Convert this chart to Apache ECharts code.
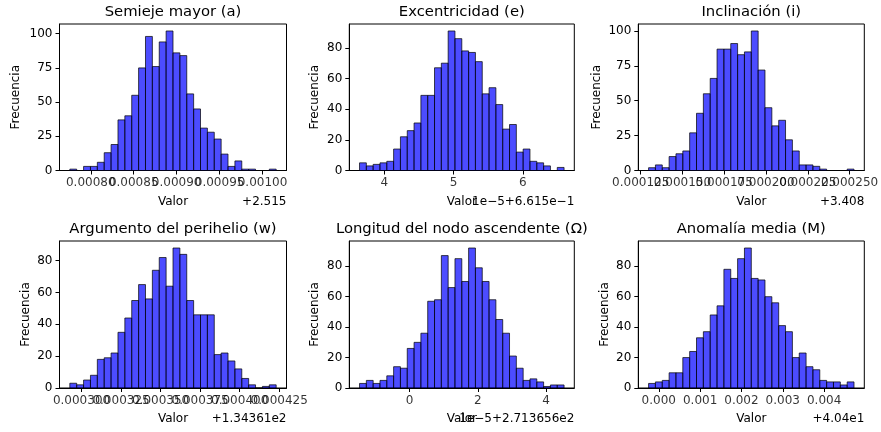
<!DOCTYPE html>
<html><head><meta charset="utf-8">
<script src="https://cdn.jsdelivr.net/npm/echarts@6/dist/echarts.min.js"></script>
<style>html,body{margin:0;padding:0;background:#fff}#c{width:881px;height:432px}</style>
</head><body><div id="c"></div>
<script>
const FONT = 'DejaVu Sans';
const titles = ['Semieje mayor (a)', 'Excentricidad (e)', 'Inclinación (i)',
  'Argumento del perihelio (w)', 'Longitud del nodo ascendente (Ω)', 'Anomalía media (M)'];
const offsetTexts = ['+2.515', '1e\u22125+6.615e\u22121', '+3.408', '+1.34361e2', '1e\u22125+2.713656e2', '+4.04e1'];

// histogram counts (30 bins each)
const countsA = [1,0,3,3,6,13,19,37,40,55,75,98,76,94,102,86,84,56,45,31,28,23,12,3,7,1,1,0,0,1];
const countsE = [5,3,4,5,6,14,22,26,31,49,49,67,70,91,86,78,77,71,50,54,43,27,30,12,14,6,5,3,0,2];
const countsI = [2,4,2,10,12,14,27,41,55,66,87,87,91,83,85,100,72,45,32,36,22,14,4,4,3,1,0,0,0,1];
const countsW = [3,2,5,8,18,19,22,35,44,55,65,56,74,82,64,88,84,55,46,46,46,21,22,17,12,6,2,0,1,2];
const countsO = [3,5,3,5,8,14,13,26,30,36,57,58,87,66,85,70,92,79,70,58,45,36,21,13,5,6,4,1,2,2];
const countsM = [3,4,5,10,10,20,24,33,37,48,54,78,72,85,92,72,71,60,56,41,37,20,23,14,12,5,4,4,2,4];

// first bin edge and bin width (in the offset-shifted axis units)
const binStarts = [0.0007756, 3.641, 0.0001297, 0.0002926, -1.47, -0.000247];
const binWidths = [8.01e-6, 0.0985, 4.1e-6, 4.35e-6, 0.2, 0.0001657];

// x tick values and labels
const xTicksA = [0.0008, 0.00085, 0.0009, 0.00095, 0.001];
const xLabelsA = ['0.00080', '0.00085', '0.00090', '0.00095', '0.00100'];
const xTicksE = [4, 5, 6];
const xLabelsE = ['4', '5', '6'];
const xTicksI = [0.000125, 0.00015, 0.000175, 0.0002, 0.000225, 0.00025];
const xLabelsI = ['0.000125', '0.000150', '0.000175', '0.000200', '0.000225', '0.000250'];
const xTicksW = [0.0003, 0.000325, 0.00035, 0.000375, 0.0004, 0.000425];
const xLabelsW = ['0.000300', '0.000325', '0.000350', '0.000375', '0.000400', '0.000425'];
const xTicksO = [0, 2, 4];
const xLabelsO = ['0', '2', '4'];
const xTicksM = [0, 0.001, 0.002, 0.003, 0.004];
const xLabelsM = ['0.000', '0.001', '0.002', '0.003', '0.004'];

// y tick values
const yTicksA = [0, 25, 50, 75, 100];
const yTicksE = [0, 20, 40, 60, 80];
const yTicksI = [0, 25, 50, 75, 100];
const yTicksW = [0, 20, 40, 60, 80];
const yTicksO = [0, 20, 40, 60, 80];
const yTicksM = [0, 20, 40, 60, 80];

const allCounts = [countsA, countsE, countsI, countsW, countsO, countsM];
const allXTicks = [xTicksA, xTicksE, xTicksI, xTicksW, xTicksO, xTicksM];
const allXLabels = [xLabelsA, xLabelsE, xLabelsI, xLabelsW, xLabelsO, xLabelsM];
const allYTicks = [yTicksA, yTicksE, yTicksI, yTicksW, yTicksO, yTicksM];

// layout
const colLeft = [59.5, 349.3, 638.3];
const colWidth = [227, 225, 226];
const rowTop = [24, 241];
const rowHeight = [146.5, 147];
const yNameGap = [38, 28, 35, 28, 28, 27];
const LBL = 12, TTL = 14.8;

const grids = [], xAxes = [], yAxes = [], series = [], titleOpts = [], graphics = [];
for (let k = 0; k < 6; k++) {
  const c = k % 3, r = Math.floor(k / 3);
  const left = colLeft[c], top = rowTop[r], w = colWidth[c], h = rowHeight[r];
  grids.push({left: left, top: top, width: w, height: h, show: true, borderColor: '#000', borderWidth: 1, backgroundColor: 'transparent', containLabel: false});
  const start = binStarts[k], bw = binWidths[k], counts = allCounts[k];
  const xmin = start - 1.5 * bw, xmax = start + 31.5 * bw;
  const ymax = 1.05 * Math.max.apply(null, counts);
  const tv = allXTicks[k], tl = allXLabels[k];
  xAxes.push({
    type: 'value', gridIndex: k, min: xmin, max: xmax, scale: true,
    splitLine: {show: false},
    axisLine: {show: true, onZero: false, lineStyle: {color: '#000', width: 1}},
    axisTick: {show: true, length: 4, lineStyle: {color: '#000'}, customValues: tv},
    axisLabel: {show: false},
    name: 'Valor', nameLocation: 'middle', nameGap: 25,
    nameTextStyle: {color: '#000', fontFamily: FONT, fontSize: LBL}
  });
  const yt = allYTicks[k];
  yAxes.push({
    type: 'value', gridIndex: k, min: 0, max: ymax,
    splitLine: {show: false},
    axisLine: {show: true, onZero: false, lineStyle: {color: '#000', width: 1}},
    axisTick: {show: true, length: 4, lineStyle: {color: '#000'}, customValues: yt},
    axisLabel: {show: true, customValues: yt, margin: 7, color: '#000', fontFamily: FONT, fontSize: LBL,
      formatter: function (v) { return String(Math.round(v)); }},
    name: 'Frecuencia', nameLocation: 'middle', nameGap: yNameGap[k], nameRotate: 90,
    nameTextStyle: {color: '#000', fontFamily: FONT, fontSize: LBL}
  });
  const data = counts.map(function (cnt, i) { return [start + i * bw, start + (i + 1) * bw, cnt]; });
  series.push({
    type: 'custom', xAxisIndex: k, yAxisIndex: k, data: data, clip: false, silent: true,
    encode: {x: [0, 1], y: 2},
    renderItem: function (params, api) {
      const p0 = api.coord([api.value(0), api.value(2)]);
      const p1 = api.coord([api.value(1), 0]);
      return {type: 'rect', shape: {x: p0[0], y: p0[1], width: p1[0] - p0[0], height: p1[1] - p0[1]},
        style: {fill: 'rgba(0,0,255,0.7)', stroke: 'rgba(0,0,0,0.7)', lineWidth: 1}};
    }
  });
  // x tick labels, placed through the x scale at each tick value (all shown, overlapping as in the original)
  series.push({
    type: 'scatter', xAxisIndex: k, yAxisIndex: k, silent: true, clip: false,
    symbol: 'circle', symbolSize: 1, itemStyle: {color: 'rgba(0,0,0,0)'},
    data: tv.map(function (v, i) { return {value: [v, 0], name: tl[i]}; }),
    label: {show: true, position: 'bottom', distance: 6, formatter: '{b}',
      color: '#000', fontFamily: FONT, fontSize: LBL},
    labelLayout: {hideOverlap: false},
    z: 5
  });
  titleOpts.push({text: titles[k], left: left + w / 2, top: top - 19, textAlign: 'center', padding: 0,
    textStyle: {fontFamily: FONT, fontSize: TTL, fontWeight: 'normal', color: '#000'}});
  graphics.push({type: 'text', right: 881 - (left + w), top: top + h + 25,
    style: {text: offsetTexts[k], fill: '#000', font: LBL + 'px "DejaVu Sans"', textAlign: 'right'}});
}

const chart = echarts.init(document.getElementById('c'), null, {renderer: 'canvas'});
chart.setOption({
  animation: false,
  backgroundColor: '#fff',
  tooltip: {show: false},
  title: titleOpts,
  grid: grids,
  xAxis: xAxes,
  yAxis: yAxes,
  series: series,
  graphic: graphics
});
</script></body></html>
